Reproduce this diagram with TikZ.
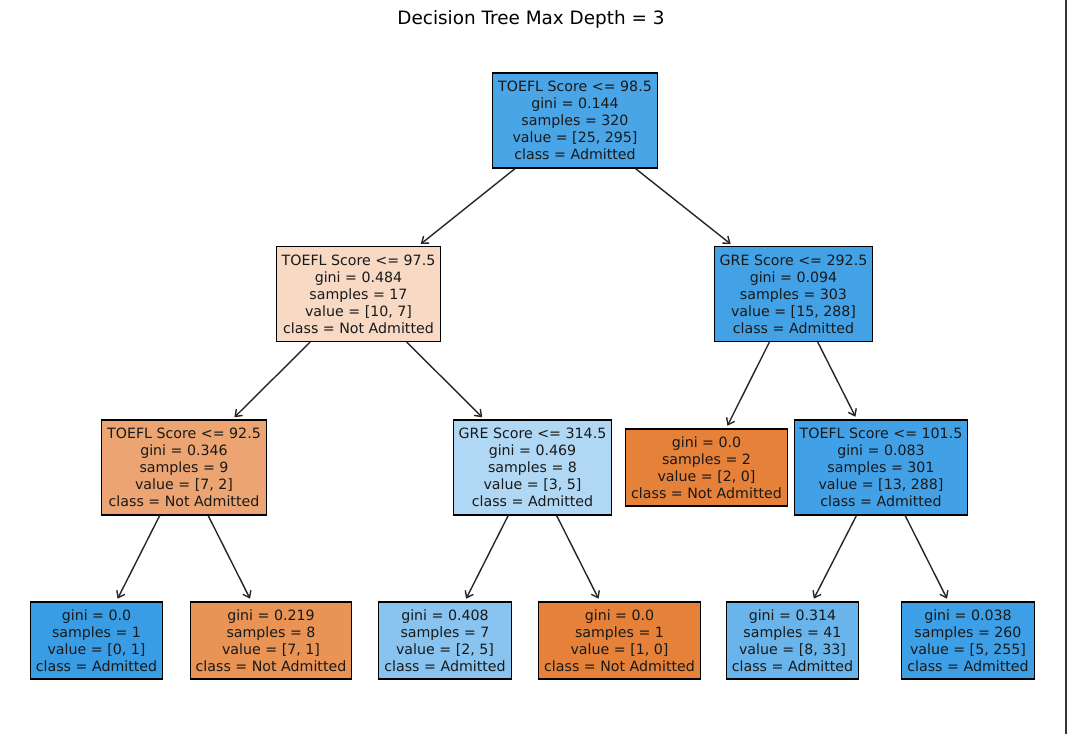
\documentclass[tikz,border=0pt]{standalone}
\usepackage{fontspec}
\setmainfont{DejaVu Sans}
\usetikzlibrary{arrows.meta}
\definecolor{cRoot}{RGB}{74,165,231}
\definecolor{cLL}{RGB}{247,217,196}
\definecolor{cLR}{RGB}{67,162,230}
\definecolor{cA}{RGB}{236,165,114}
\definecolor{cB}{RGB}{176,216,245}
\definecolor{cC}{RGB}{229,129,57}
\definecolor{cD}{RGB}{66,161,230}
\definecolor{cF}{RGB}{57,157,229}
\definecolor{cG}{RGB}{233,147,85}
\definecolor{cH}{RGB}{136,196,239}
\definecolor{cI}{RGB}{229,129,57}
\definecolor{cJ}{RGB}{105,181,235}
\definecolor{cK}{RGB}{61,159,230}
\begin{document}
\begin{tikzpicture}[x=1pt,y=-1pt,
  tnode/.style={draw=black, line width=1.2pt, inner xsep=5.5pt, inner ysep=4pt,
    align=center, font=\fontsize{14.2}{17}\selectfont, text=black!90},
  split/.style={tnode, minimum height=95pt},
  leaf/.style={tnode, minimum height=77pt},
  arr/.style={-{Straight Barb[length=6pt,width=9pt,line width=1.4pt]}, line width=1.4pt,
    draw=black!85, shorten >=3pt}]
\useasboundingbox (0,0) rectangle (1068,734);
\node[font=\fontsize{18.4}{22}\selectfont, anchor=base] (title) at (531,24) {Decision Tree Max Depth = 3};
\draw[line width=2pt, draw=black!80] (1066,0) -- (1066,734);

\node[split, fill=cRoot] (root) at (575,120.5) {TOEFL Score <= 98.5\\gini = 0.144\\samples = 320\\value = [25, 295]\\class = Admitted};
\node[split, fill=cLL] (ll) at (358.5,294) {TOEFL Score <= 97.5\\gini = 0.484\\samples = 17\\value = [10, 7]\\class = Not Admitted};
\node[split, fill=cLR] (lr) at (793.5,294) {GRE Score <= 292.5\\gini = 0.094\\samples = 303\\value = [15, 288]\\class = Admitted};
\node[split, fill=cA] (a) at (184,467.5) {TOEFL Score <= 92.5\\gini = 0.346\\samples = 9\\value = [7, 2]\\class = Not Admitted};
\node[split, fill=cB] (b) at (532.5,467.5) {GRE Score <= 314.5\\gini = 0.469\\samples = 8\\value = [3, 5]\\class = Admitted};
\node[leaf, fill=cC] (c) at (706.5,467.5) {gini = 0.0\\samples = 2\\value = [2, 0]\\class = Not Admitted};
\node[split, fill=cD] (d) at (881,467.5) {TOEFL Score <= 101.5\\gini = 0.083\\samples = 301\\value = [13, 288]\\class = Admitted};
\node[leaf, fill=cF] (f) at (96.5,640.5) {gini = 0.0\\samples = 1\\value = [0, 1]\\class = Admitted};
\node[leaf, fill=cG] (g) at (271,640.5) {gini = 0.219\\samples = 8\\value = [7, 1]\\class = Not Admitted};
\node[leaf, fill=cH] (h) at (445,640.5) {gini = 0.408\\samples = 7\\value = [2, 5]\\class = Admitted};
\node[leaf, fill=cI] (i) at (619.5,640.5) {gini = 0.0\\samples = 1\\value = [1, 0]\\class = Not Admitted};
\node[leaf, fill=cJ] (j) at (792.5,640.5) {gini = 0.314\\samples = 41\\value = [8, 33]\\class = Admitted};
\node[leaf, fill=cK] (k) at (968,640.5) {gini = 0.038\\samples = 260\\value = [5, 255]\\class = Admitted};

\draw[arr] (root) -- (ll);
\draw[arr] (root) -- (lr);
\draw[arr] (ll) -- (a);
\draw[arr] (ll) -- (b);
\draw[arr] (lr) -- (c);
\draw[arr] (lr) -- (d);
\draw[arr] (a) -- (f);
\draw[arr] (a) -- (g);
\draw[arr] (b) -- (h);
\draw[arr] (b) -- (i);
\draw[arr] (d) -- (j);
\draw[arr] (d) -- (k);
\end{tikzpicture}
\end{document}
